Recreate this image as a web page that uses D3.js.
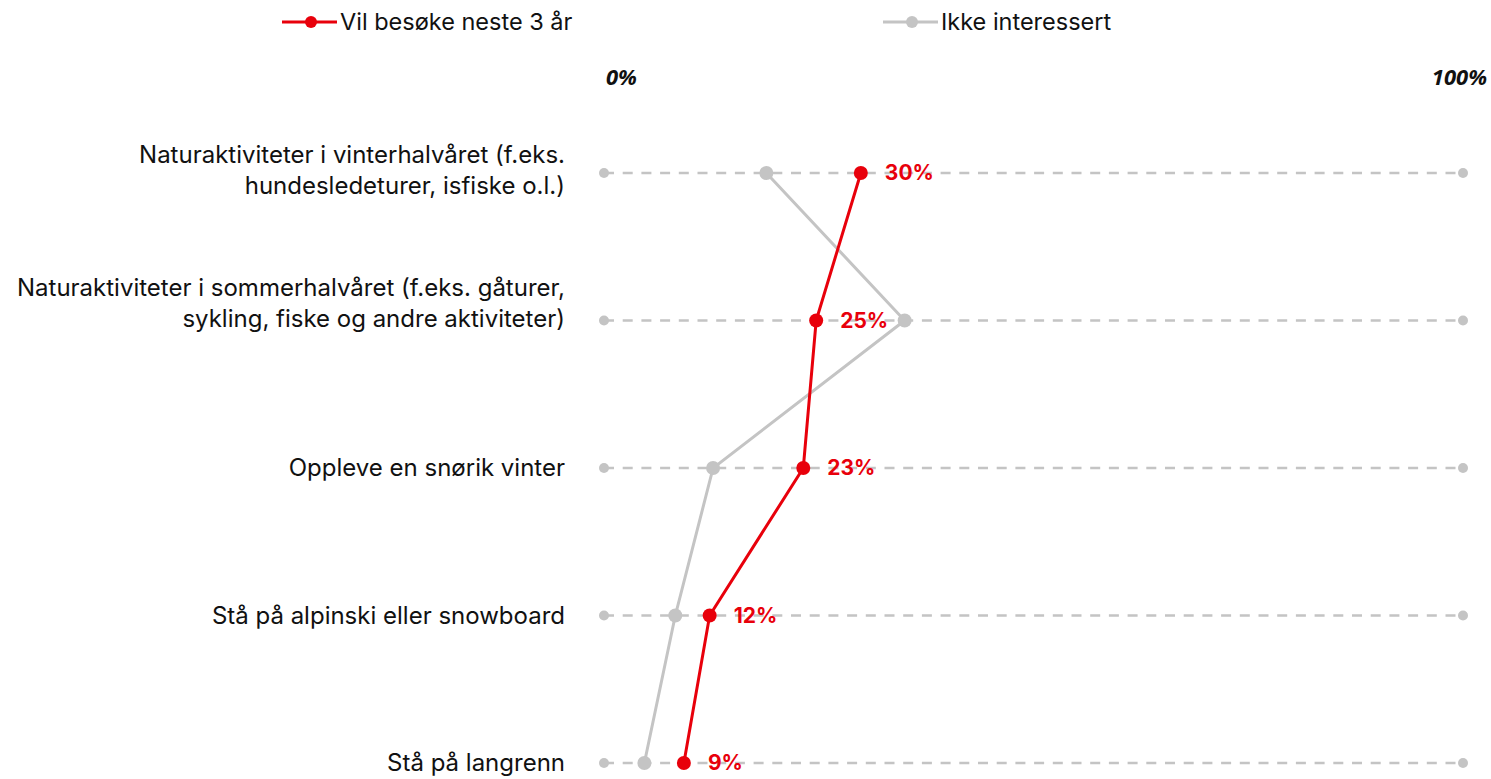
<!DOCTYPE html>
<html>
  <head>
    <meta charset="utf-8" />
    <title>Aktiviteter</title>
    <script src="https://d3js.org/d3.v7.min.js"></script>
    <style>
      body { margin: 0; background: white; }
      text { font-family: "Inter", sans-serif; }
      .cat { font-size: 24px; fill: #111; }
      .legend { font-size: 23.5px; fill: #111; }
      .axislabel { font-family: "Open Sans", sans-serif; font-size: 22px; font-weight: 700; font-style: italic; fill: #111; }
      .val { font-size: 21px; font-weight: 700; fill: #e8000b; }
    </style>
  </head>
  <body>
    <svg id="viz"></svg>
    <script>

    var width = 1491,
        height = 779;

    // data
    var categories = [
      ["Naturaktiviteter i vinterhalvåret (f.eks.", "hundesledeturer, isfiske o.l.)"],
      ["Naturaktiviteter i sommerhalvåret (f.eks. gåturer,", "sykling, fiske og andre aktiviteter)"],
      ["Oppleve en snørik vinter"],
      ["Stå på alpinski eller snowboard"],
      ["Stå på langrenn"]
    ];
    var visit = [29.9, 24.7, 23.2, 12.3, 9.3];
    var visitLabels = ["30%", "25%", "23%", "12%", "9%"];
    var notInterested = [18.9, 35.0, 12.7, 8.3, 4.7];
    var seriesNames = ["Vil besøke neste 3 år", "Ikke interessert"];
    var axisTicks = ["0%", "100%"];

    var red = "#e8000b",
        grey = "#c4c4c4";

    // small vertical nudge for the wrapped labels
    var labelNudge = [-3, -17, 0, 0, 0];

    var svg = d3.select("#viz")
      .attr("width", width)
      .attr("height", height);

    var x = d3.scaleLinear().domain([0, 100]).range([604, 1463]);
    var y = d3.scalePoint().domain(d3.range(categories.length)).range([173, 763]);

    // legend
    var legend = svg.selectAll(".leg")
      .data(seriesNames)
      .enter().append("g")
      .attr("transform", function(d, i) { return "translate(" + (i === 0 ? 282 : 883) + ",22)"; });
    legend.append("line")
      .attr("x1", 0).attr("x2", 55)
      .attr("stroke", function(d, i) { return i === 0 ? red : grey; })
      .attr("stroke-width", 3);
    legend.append("circle")
      .attr("cx", 29).attr("r", 6)
      .attr("fill", function(d, i) { return i === 0 ? red : grey; });
    legend.append("text")
      .attr("class", "legend")
      .attr("x", 58)
      .attr("dy", "0.35em")
      .text(function(d) { return d; });

    // axis end labels
    svg.append("text").attr("class", "axislabel")
      .attr("x", x(0) + 2).attr("y", 85)
      .text(axisTicks[0]);
    svg.append("text").attr("class", "axislabel")
      .attr("x", x(100) + 24).attr("y", 85)
      .attr("text-anchor", "end")
      .text(axisTicks[1]);

    // dashed guide rows
    var rows = svg.selectAll(".row")
      .data(categories)
      .enter().append("g")
      .attr("transform", function(d, i) { return "translate(0," + y(i) + ")"; });
    rows.append("line")
      .attr("x1", x(0)).attr("x2", x(100))
      .attr("stroke", grey)
      .attr("stroke-width", 2.5)
      .attr("stroke-dasharray", "10,8.7");
    rows.selectAll(".end")
      .data([0, 100])
      .enter().append("circle")
      .attr("cx", function(d) { return x(d); })
      .attr("r", 5)
      .attr("fill", grey);

    // category labels
    rows.append("text")
      .attr("class", "cat")
      .attr("text-anchor", "end")
      .attr("transform", function(d, i) { return "translate(0," + labelNudge[i] + ")"; })
      .selectAll("tspan")
      .data(function(d) { return d; })
      .enter().append("tspan")
      .attr("x", 565)
      .attr("y", function(d, i, nodes) { return (i - (nodes.length - 1) / 2) * 31; })
      .attr("dy", "0.35em")
      .text(function(d) { return d; });

    // lines
    var line = d3.line()
      .x(function(d) { return x(d); })
      .y(function(d, i) { return y(i); });

    svg.append("path")
      .attr("d", line(notInterested))
      .attr("fill", "none")
      .attr("stroke", grey)
      .attr("stroke-width", 3);
    svg.selectAll(".gdot")
      .data(notInterested)
      .enter().append("circle")
      .attr("cx", function(d) { return x(d); })
      .attr("cy", function(d, i) { return y(i); })
      .attr("r", 7)
      .attr("fill", grey);

    svg.append("path")
      .attr("d", line(visit))
      .attr("fill", "none")
      .attr("stroke", red)
      .attr("stroke-width", 3);
    svg.selectAll(".rdot")
      .data(visit)
      .enter().append("circle")
      .attr("cx", function(d) { return x(d); })
      .attr("cy", function(d, i) { return y(i); })
      .attr("r", 7)
      .attr("fill", red);

    svg.selectAll(".val")
      .data(visit)
      .enter().append("text")
      .attr("class", "val")
      .attr("x", function(d) { return x(d) + 24; })
      .attr("y", function(d, i) { return y(i); })
      .attr("dy", "0.35em")
      .text(function(d, i) { return visitLabels[i]; });

    </script>
  </body>
</html>
